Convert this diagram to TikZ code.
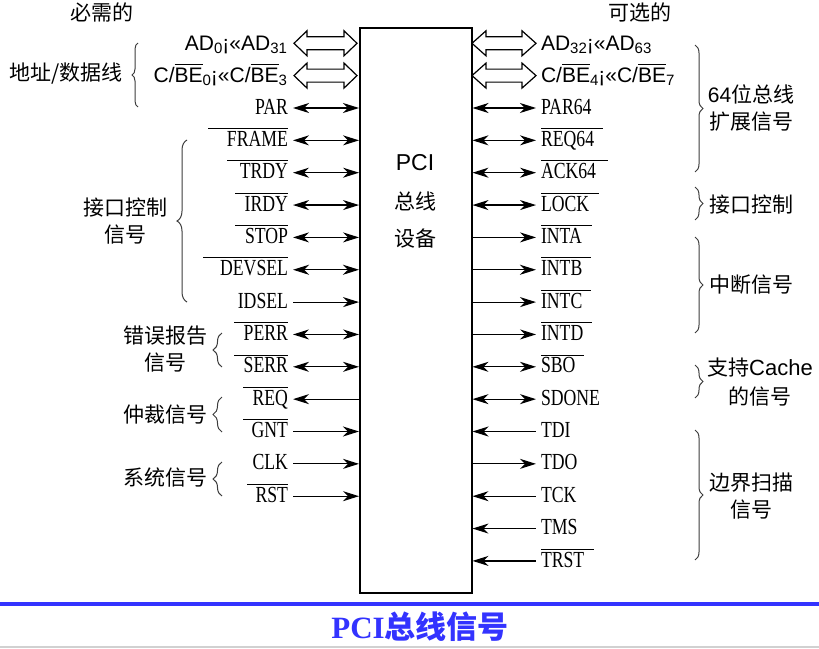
\documentclass[tikz,border=0pt]{standalone}
\usepackage{fontspec}
\setmainfont{Liberation Serif}
\newfontfamily\cjk{Noto Sans CJK SC}
\newfontfamily\sigf[FakeStretch=0.77]{Liberation Serif}
\newfontfamily\arial{Liberation Sans}
\usetikzlibrary{arrows.meta,decorations.pathreplacing}
\definecolor{titleblue}{RGB}{51,51,255}
\definecolor{bracegray}{RGB}{60,60,60}
\newsavebox\ovbox
\newcommand\ovtext[1]{\sbox\ovbox{#1}\rlap{\rule[\dimexpr\ht\ovbox+3pt\relax]{\wd\ovbox}{1pt}}\usebox\ovbox}
\newcommand\ovL[2]{#2\llap{\rule[17.4pt]{#1pt}{1pt}}}
\newcommand\ovR[2]{\rlap{\rule[17.4pt]{#1pt}{1pt}}#2}
\newcommand\sbs[1]{\raisebox{-3pt}{\fontsize{15}{15}\selectfont #1}}
\tikzset{
  stl/.tip={Stealth[length=16pt,width=10pt,inset=5pt]},
  sig/.style={line width=1.2pt},
  sboth/.style={sig,stl-stl},
  sright/.style={sig,-stl},
  sleft/.style={sig,stl-},
  lsig/.style={anchor=east,inner sep=0pt,outer sep=5pt,text height=12.2pt,text depth=0pt,
    font=\sigf\fontsize{23}{23}\selectfont},
  rsig/.style={lsig,anchor=west},
  adl/.style={anchor=east,inner sep=0pt,outer sep=6pt,text height=14pt,text depth=0pt,
    font=\arial\fontsize{21}{21}\selectfont},
  adr/.style={adl,anchor=west,outer sep=5pt},
  cjkl/.style={inner sep=0pt,align=center,font=\cjk\fontsize{21}{27}\selectfont},
  brc/.style={decorate,draw=bracegray,line width=1pt},
  hollow/.style={draw=black,line width=1.2pt,fill=white},
}
\begin{document}
\begin{tikzpicture}[x=1pt,y=-1pt]
\useasboundingbox (0,0) rectangle (819,648);
% box
\node[draw,line width=1.5pt,minimum width=112pt,minimum height=565pt,anchor=north west,inner sep=0pt] (box) at (359,27) {};
\node[font=\arial\fontsize{23}{23}\selectfont] (t1) at (415,163) {PCI};
\node[font=\cjk\fontsize{21}{21}\selectfont] (t2) at (415,201) {总线};
\node[font=\cjk\fontsize{21}{21}\selectfont] (t3) at (415,239) {设备};
% headers
\node[cjkl] (hd1) at (102,12) {必需的};
\node[cjkl] (hd2) at (640,12) {可选的};
% AD rows
\node[adl] (la1) at (293,43.3) {AD\sbs{0}¡«AD\sbs{31}};
\node[adl] (la2) at (293,75.6) {C/\ovtext{BE}\sbs{0}¡«C/\ovtext{BE}\sbs{3}};
\node[adr] (ra1) at (536,43.3) {AD\sbs{32}¡«AD\sbs{63}};
\node[adr] (ra2) at (536,75.6) {C/\ovtext{BE}\sbs{4}¡«C/\ovtext{BE}\sbs{7}};
\foreach \yy in {43.3,75.6}{
  \draw[hollow] (294,\yy) -- ++(13,-12.5) -- ++(0,6) -- (344,\yy-6.5) -- ++(0,-6) -- (357,\yy)
     -- (344,\yy+12.5) -- ++(0,-6) -- (307,\yy+6.5) -- ++(0,6) -- cycle;
  \draw[hollow] (472,\yy) -- ++(14,-12.5) -- ++(0,6) -- (522,\yy-6.5) -- ++(0,-6) -- (536,\yy)
     -- (522,\yy+12.5) -- ++(0,-6) -- (486,\yy+6.5) -- ++(0,6) -- cycle;
}
% left signals
\foreach \i/\t/\d in {0/PAR/sboth,1/{\ovL{80}{FRAME}}/sboth,2/{\ovL{61}{TRDY}}/sboth,
  3/{\ovL{53}{IRDY}}/sboth,4/{\ovL{53}{STOP}}/sboth,5/{\ovL{85}{DEVSEL}}/sboth,
  6/IDSEL/sright,7/{\ovL{54}{PERR}}/sboth,8/{\ovL{54}{SERR}}/sboth,9/{\ovL{45}{REQ}}/sleft,
  10/{\ovL{45}{GNT}}/sright,11/CLK/sright,12/{\ovL{41}{RST}}/sright}{
  \pgfmathsetmacro\yy{108+32.35*\i}
  \node[lsig] (l\i) at (293,\yy) {\t};
  \draw[\d] (l\i) -- (l\i -| box.west);
}
% right signals
\foreach \i/\t/\d in {0/PAR64/sboth,1/{\ovR{62}{REQ64}}/sboth,2/{\ovR{67}{ACK64}}/sboth,
  3/{\ovR{58}{LOCK}}/sboth,4/{\ovR{51}{INTA}}/sright,5/{\ovR{50}{INTB}}/sright,
  6/{\ovR{50}{INTC}}/sright,7/{\ovR{51}{INTD}}/sright,8/{\ovR{43}{SBO}}/sboth,
  9/SDONE/sboth,10/TDI/sleft,11/TDO/sright,12/TCK/sleft,13/TMS/sleft,14/{\ovR{53}{TRST}}/sleft}{
  \pgfmathsetmacro\yy{108+32.35*\i}
  \node[rsig] (r\i) at (536,\yy) {\t};
  \draw[\d] (box.east |- r\i) -- (r\i);
}
% left groups
\node[cjkl,anchor=east] (g1) at (123,74) {地址/数据线};
\node[cjkl] (g2) at (125,221) {接口控制\\信号};
\node[cjkl] (g3) at (165,349) {错误报告\\信号};
\node[cjkl] (g4) at (165,415) {仲裁信号};
\node[cjkl] (g5) at (165,478) {系统信号};
\draw[brc,decoration={brace,amplitude=6pt}] (138,107) -- (138,43);
\draw[brc,decoration={brace,amplitude=10pt}] (187,302) -- (187,140);
\draw[brc,decoration={brace,amplitude=9pt}] (222,367) -- (222,333);
\draw[brc,decoration={brace,amplitude=9pt}] (222,432) -- (222,397);
\draw[brc,decoration={brace,amplitude=9pt}] (222,496) -- (222,462);
% right groups
\node[cjkl] (h1) at (751,108) {{\arial 64}位总线\\扩展信号};
\node[cjkl] (h2) at (751,205) {接口控制};
\node[cjkl] (h3) at (751,285) {中断信号};
\node[cjkl,font=\cjk\fontsize{21}{29}\selectfont] (h4) at (760,382) {支持{\arial\fontsize{22}{29}\selectfont Cache}\\的信号};
\node[cjkl] (h5) at (751,496) {边界扫描\\信号};
\draw[brc,decoration={brace,amplitude=8pt}] (695,45) -- (695,172);
\draw[brc,decoration={brace,amplitude=8pt}] (695,187) -- (695,220);
\draw[brc,decoration={brace,amplitude=8pt}] (695,237) -- (695,333);
\draw[brc,decoration={brace,amplitude=8pt}] (695,365) -- (695,398);
\draw[brc,decoration={brace,amplitude=8pt}] (695,430) -- (695,560);
% title
\fill[titleblue] (0,601.5) rectangle (819,605.5);
\fill[black!18] (0,645.5) rectangle (819,648);
\node[text=titleblue,inner sep=0pt] (title) at (420,627)
  {\fontsize{31}{31}\selectfont\bfseries PCI{\cjk\bfseries 总线信号}};
\end{tikzpicture}
\end{document}
